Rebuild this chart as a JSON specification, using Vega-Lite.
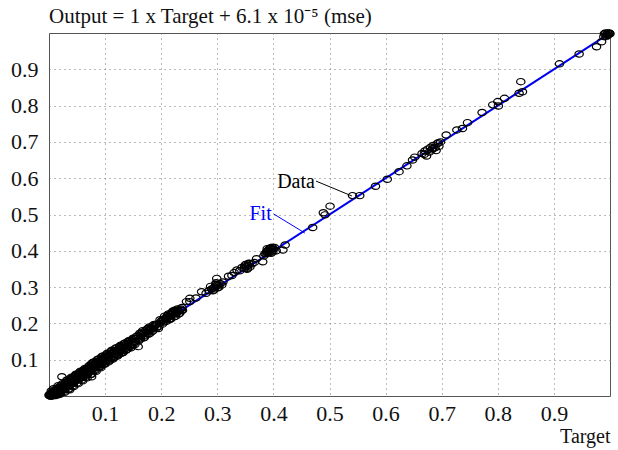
{
  "$schema": "https://vega.github.io/schema/vega-lite/v6.json",
  "autosize": "none",
  "width": 561,
  "height": 363,
  "padding": {"left": 49, "top": 33, "right": 8, "bottom": 54},
  "background": "white",
  "config": {
    "font": "Liberation Serif",
    "view": {"stroke": "#555", "strokeWidth": 1}
  },
  "title": {
    "text": "Output = 1 x Target + 6.1 x 10⁻⁵ (mse)",
    "anchor": "start", "frame": "group", "font": "Liberation Serif",
    "fontSize": 21, "fontWeight": "normal", "color": "#111", "offset": 0
  },
  "datasets": {
    "pts": [
      {"t":0.000,"o":0.002},{"t":0.002,"o":0.000},{"t":0.003,"o":0.006},{"t":0.004,"o":0.003},{"t":0.005,"o":0.010},
      {"t":0.006,"o":0.001},{"t":0.007,"o":0.008},{"t":0.008,"o":0.004},{"t":0.009,"o":0.013},{"t":0.010,"o":0.006},
      {"t":0.011,"o":0.002},{"t":0.012,"o":0.016},{"t":0.013,"o":0.009},{"t":0.014,"o":0.011},{"t":0.015,"o":0.005},
      {"t":0.016,"o":0.020},{"t":0.017,"o":0.013},{"t":0.018,"o":0.017},{"t":0.019,"o":0.010},{"t":0.020,"o":0.024},
      {"t":0.021,"o":0.016},{"t":0.022,"o":0.021},{"t":0.023,"o":0.053},{"t":0.024,"o":0.015},{"t":0.025,"o":0.028},
      {"t":0.026,"o":0.022},{"t":0.027,"o":0.031},{"t":0.028,"o":0.019},{"t":0.029,"o":0.035},{"t":0.030,"o":0.026},
      {"t":0.031,"o":0.030},{"t":0.032,"o":0.039},{"t":0.033,"o":0.024},{"t":0.034,"o":0.034},{"t":0.035,"o":0.042},
      {"t":0.036,"o":0.029},{"t":0.037,"o":0.017},{"t":0.038,"o":0.040},{"t":0.039,"o":0.046},{"t":0.040,"o":0.033},
      {"t":0.041,"o":0.044},{"t":0.042,"o":0.038},{"t":0.043,"o":0.050},{"t":0.044,"o":0.036},{"t":0.045,"o":0.048},
      {"t":0.046,"o":0.041},{"t":0.047,"o":0.055},{"t":0.048,"o":0.043},{"t":0.049,"o":0.052},{"t":0.050,"o":0.046},
      {"t":0.051,"o":0.058},{"t":0.052,"o":0.045},{"t":0.053,"o":0.055},{"t":0.054,"o":0.050},{"t":0.055,"o":0.062},
      {"t":0.056,"o":0.049},{"t":0.057,"o":0.060},{"t":0.058,"o":0.054},{"t":0.059,"o":0.066},{"t":0.060,"o":0.053},
      {"t":0.061,"o":0.064},{"t":0.062,"o":0.058},{"t":0.063,"o":0.070},{"t":0.064,"o":0.056},{"t":0.065,"o":0.068},
      {"t":0.066,"o":0.062},{"t":0.067,"o":0.074},{"t":0.068,"o":0.060},{"t":0.069,"o":0.071},{"t":0.070,"o":0.066},
      {"t":0.071,"o":0.078},{"t":0.072,"o":0.065},{"t":0.073,"o":0.076},{"t":0.074,"o":0.070},{"t":0.075,"o":0.082},
      {"t":0.076,"o":0.090},{"t":0.076,"o":0.053},{"t":0.077,"o":0.073},{"t":0.078,"o":0.084},{"t":0.079,"o":0.075},
      {"t":0.080,"o":0.086},{"t":0.081,"o":0.078},{"t":0.082,"o":0.091},{"t":0.083,"o":0.079},{"t":0.084,"o":0.089},
      {"t":0.085,"o":0.083},{"t":0.086,"o":0.095},{"t":0.087,"o":0.081},{"t":0.088,"o":0.093},{"t":0.089,"o":0.087},
      {"t":0.090,"o":0.098},{"t":0.091,"o":0.086},{"t":0.092,"o":0.097},{"t":0.093,"o":0.091},{"t":0.094,"o":0.103},
      {"t":0.095,"o":0.090},{"t":0.096,"o":0.101},{"t":0.097,"o":0.095},{"t":0.098,"o":0.107},{"t":0.099,"o":0.094},
      {"t":0.100,"o":0.105},{"t":0.102,"o":0.099},{"t":0.104,"o":0.111},{"t":0.106,"o":0.101},{"t":0.108,"o":0.114},
      {"t":0.110,"o":0.106},{"t":0.112,"o":0.118},{"t":0.114,"o":0.109},{"t":0.116,"o":0.121},{"t":0.118,"o":0.113},
      {"t":0.120,"o":0.125},{"t":0.122,"o":0.116},{"t":0.124,"o":0.128},{"t":0.126,"o":0.121},{"t":0.127,"o":0.136},
      {"t":0.128,"o":0.124},{"t":0.130,"o":0.134},{"t":0.132,"o":0.127},{"t":0.134,"o":0.138},{"t":0.136,"o":0.131},
      {"t":0.138,"o":0.142},{"t":0.140,"o":0.136},{"t":0.142,"o":0.146},{"t":0.144,"o":0.139},{"t":0.147,"o":0.140},
      {"t":0.150,"o":0.159},{"t":0.152,"o":0.148},{"t":0.155,"o":0.158},{"t":0.159,"o":0.136},{"t":0.162,"o":0.173},
      {"t":0.165,"o":0.168},{"t":0.168,"o":0.171},{"t":0.173,"o":0.182},{"t":0.174,"o":0.177},{"t":0.178,"o":0.180},
      {"t":0.182,"o":0.188},{"t":0.186,"o":0.196},{"t":0.186,"o":0.186},{"t":0.195,"o":0.186},{"t":0.200,"o":0.205},
      {"t":0.207,"o":0.214},{"t":0.210,"o":0.214},{"t":0.212,"o":0.218},{"t":0.215,"o":0.220},{"t":0.218,"o":0.225},
      {"t":0.220,"o":0.228},{"t":0.222,"o":0.230},{"t":0.225,"o":0.226},{"t":0.228,"o":0.232},{"t":0.230,"o":0.236},
      {"t":0.232,"o":0.233},{"t":0.235,"o":0.240},{"t":0.245,"o":0.260},{"t":0.251,"o":0.269},{"t":0.251,"o":0.260},
      {"t":0.272,"o":0.287},{"t":0.285,"o":0.290},{"t":0.290,"o":0.295},{"t":0.293,"o":0.297},{"t":0.296,"o":0.300},
      {"t":0.299,"o":0.306},{"t":0.299,"o":0.324},{"t":0.302,"o":0.305},{"t":0.305,"o":0.310},{"t":0.310,"o":0.314},
      {"t":0.320,"o":0.330},{"t":0.330,"o":0.340},{"t":0.335,"o":0.347},{"t":0.340,"o":0.345},{"t":0.348,"o":0.352},
      {"t":0.352,"o":0.356},{"t":0.355,"o":0.360},{"t":0.358,"o":0.355},{"t":0.362,"o":0.364},{"t":0.370,"o":0.378},
      {"t":0.381,"o":0.370},{"t":0.385,"o":0.392},{"t":0.388,"o":0.398},{"t":0.390,"o":0.400},{"t":0.391,"o":0.402},
      {"t":0.393,"o":0.396},{"t":0.395,"o":0.404},{"t":0.397,"o":0.399},{"t":0.400,"o":0.405},{"t":0.405,"o":0.400},
      {"t":0.417,"o":0.402},{"t":0.421,"o":0.416},{"t":0.470,"o":0.464},{"t":0.489,"o":0.505},{"t":0.492,"o":0.499},
      {"t":0.501,"o":0.523},{"t":0.541,"o":0.552},{"t":0.554,"o":0.552},{"t":0.582,"o":0.578},{"t":0.603,"o":0.597},
      {"t":0.624,"o":0.618},{"t":0.638,"o":0.634},{"t":0.648,"o":0.650},{"t":0.652,"o":0.658},{"t":0.665,"o":0.668},
      {"t":0.670,"o":0.675},{"t":0.673,"o":0.661},{"t":0.675,"o":0.680},{"t":0.678,"o":0.672},{"t":0.680,"o":0.685},
      {"t":0.682,"o":0.678},{"t":0.685,"o":0.690},{"t":0.688,"o":0.684},{"t":0.690,"o":0.676},{"t":0.692,"o":0.695},
      {"t":0.695,"o":0.688},{"t":0.698,"o":0.700},{"t":0.708,"o":0.719},{"t":0.727,"o":0.733},{"t":0.737,"o":0.737},
      {"t":0.746,"o":0.753},{"t":0.772,"o":0.781},{"t":0.791,"o":0.802},{"t":0.800,"o":0.811},{"t":0.801,"o":0.799},
      {"t":0.812,"o":0.820},{"t":0.838,"o":0.834},{"t":0.841,"o":0.866},{"t":0.844,"o":0.838},{"t":0.910,"o":0.915},
      {"t":0.945,"o":0.942},{"t":0.976,"o":0.962},{"t":0.985,"o":0.976},{"t":0.993,"o":0.990},{"t":0.990,"o":0.998},
      {"t":0.992,"o":1.000},{"t":0.994,"o":0.997},{"t":0.996,"o":1.000},{"t":0.998,"o":0.999},{"t":1.000,"o":0.998},
      {"t":0.997,"o":0.995},
      {"t":0.004,"o":0.014},{"t":0.008,"o":0.020},{"t":0.012,"o":0.001},{"t":0.016,"o":0.028},{"t":0.020,"o":0.006},
      {"t":0.024,"o":0.034},{"t":0.028,"o":0.010},{"t":0.032,"o":0.044},{"t":0.036,"o":0.020},{"t":0.040,"o":0.052},
      {"t":0.044,"o":0.026},{"t":0.048,"o":0.060},{"t":0.052,"o":0.034},{"t":0.056,"o":0.068},{"t":0.060,"o":0.042},
      {"t":0.064,"o":0.076},{"t":0.068,"o":0.050},{"t":0.072,"o":0.084},{"t":0.076,"o":0.060},{"t":0.080,"o":0.094},
      {"t":0.084,"o":0.068},{"t":0.088,"o":0.102},{"t":0.092,"o":0.078},{"t":0.096,"o":0.110},{"t":0.100,"o":0.088},
      {"t":0.104,"o":0.118},{"t":0.108,"o":0.097},{"t":0.112,"o":0.126},{"t":0.116,"o":0.106},{"t":0.120,"o":0.133},
      {"t":0.124,"o":0.114},{"t":0.128,"o":0.140},{"t":0.132,"o":0.120},{"t":0.136,"o":0.146},{"t":0.140,"o":0.129},
      {"t":0.145,"o":0.153},{"t":0.150,"o":0.142},{"t":0.156,"o":0.164},{"t":0.160,"o":0.152},{"t":0.166,"o":0.176},
      {"t":0.170,"o":0.162},{"t":0.176,"o":0.186},{"t":0.180,"o":0.173},{"t":0.190,"o":0.198},{"t":0.196,"o":0.192},
      {"t":0.204,"o":0.210},{"t":0.216,"o":0.214},{"t":0.224,"o":0.236},{"t":0.238,"o":0.236},{"t":0.262,"o":0.270},
      {"t":0.280,"o":0.283},{"t":0.308,"o":0.306},{"t":0.326,"o":0.332},{"t":0.344,"o":0.354},{"t":0.366,"o":0.368},
      {"t":0.383,"o":0.386},{"t":0.396,"o":0.393},{"t":0.402,"o":0.409},{"t":0.669,"o":0.666},{"t":0.684,"o":0.682},
      {"t":0.694,"o":0.698},{"t":0.999,"o":1.000},{"t":0.995,"o":0.993},{"t":0.989,"o":0.990},
      {"t":0.005,"o":0.000},{"t":0.009,"o":0.001},{"t":0.014,"o":0.022},{"t":0.018,"o":0.004},{"t":0.022,"o":0.030},
      {"t":0.026,"o":0.012},{"t":0.030,"o":0.038},{"t":0.034,"o":0.018},{"t":0.038,"o":0.048},{"t":0.042,"o":0.028},
      {"t":0.046,"o":0.056},{"t":0.050,"o":0.036},{"t":0.054,"o":0.064},{"t":0.058,"o":0.044},{"t":0.062,"o":0.072},
      {"t":0.066,"o":0.052},{"t":0.070,"o":0.080},{"t":0.074,"o":0.060},{"t":0.078,"o":0.092},{"t":0.082,"o":0.070},
      {"t":0.086,"o":0.100},{"t":0.090,"o":0.080},{"t":0.094,"o":0.108},{"t":0.098,"o":0.088},{"t":0.102,"o":0.114},
      {"t":0.106,"o":0.094},{"t":0.110,"o":0.122},{"t":0.114,"o":0.102},{"t":0.118,"o":0.130},{"t":0.122,"o":0.110},
      {"t":0.126,"o":0.137},{"t":0.130,"o":0.118},{"t":0.134,"o":0.145},{"t":0.138,"o":0.128},{"t":0.142,"o":0.152},
      {"t":0.146,"o":0.133},{"t":0.150,"o":0.150},{"t":0.154,"o":0.149},{"t":0.158,"o":0.166},{"t":0.163,"o":0.158},
      {"t":0.167,"o":0.180},{"t":0.171,"o":0.166},{"t":0.175,"o":0.172},{"t":0.179,"o":0.190},{"t":0.184,"o":0.178},
      {"t":0.188,"o":0.192},{"t":0.192,"o":0.188},{"t":0.198,"o":0.210},{"t":0.202,"o":0.198},{"t":0.206,"o":0.220},
      {"t":0.209,"o":0.206},{"t":0.213,"o":0.226},{"t":0.217,"o":0.212},{"t":0.221,"o":0.234},{"t":0.226,"o":0.220},
      {"t":0.229,"o":0.240},{"t":0.233,"o":0.228},{"t":0.237,"o":0.244},{"t":0.288,"o":0.302},{"t":0.292,"o":0.290},
      {"t":0.297,"o":0.308},{"t":0.301,"o":0.298},{"t":0.350,"o":0.362},{"t":0.353,"o":0.349},{"t":0.357,"o":0.365},
      {"t":0.387,"o":0.392},{"t":0.389,"o":0.406},{"t":0.392,"o":0.395},{"t":0.394,"o":0.408},{"t":0.398,"o":0.410},
      {"t":0.001,"o":0.004},{"t":0.003,"o":0.000},{"t":0.006,"o":0.012},{"t":0.010,"o":0.015},{"t":0.013,"o":0.004},
      {"t":0.017,"o":0.023},{"t":0.021,"o":0.010},{"t":0.025,"o":0.020},{"t":0.029,"o":0.022},{"t":0.033,"o":0.036},
      {"t":0.037,"o":0.030},{"t":0.041,"o":0.034},{"t":0.045,"o":0.040},{"t":0.049,"o":0.044},{"t":0.053,"o":0.060},
      {"t":0.057,"o":0.050},{"t":0.061,"o":0.056},{"t":0.065,"o":0.074},{"t":0.069,"o":0.062},{"t":0.073,"o":0.068},
      {"t":0.077,"o":0.086},{"t":0.081,"o":0.072},{"t":0.085,"o":0.092},{"t":0.089,"o":0.080},{"t":0.093,"o":0.100},
      {"t":0.097,"o":0.088},{"t":0.101,"o":0.110},{"t":0.105,"o":0.098},{"t":0.109,"o":0.118},{"t":0.113,"o":0.104},
      {"t":0.117,"o":0.124},{"t":0.121,"o":0.112},{"t":0.125,"o":0.132},{"t":0.129,"o":0.120},{"t":0.133,"o":0.140},
      {"t":0.137,"o":0.126},{"t":0.141,"o":0.150},{"t":0.145,"o":0.136},{"t":0.149,"o":0.156},{"t":0.153,"o":0.142},
      {"t":0.157,"o":0.160},{"t":0.161,"o":0.156},{"t":0.165,"o":0.172},{"t":0.169,"o":0.160},{"t":0.173,"o":0.176},
      {"t":0.177,"o":0.170},{"t":0.181,"o":0.184},{"t":0.185,"o":0.180},{"t":0.189,"o":0.196},{"t":0.193,"o":0.198},
      {"t":0.197,"o":0.200},{"t":0.201,"o":0.208},{"t":0.205,"o":0.204},{"t":0.211,"o":0.222},{"t":0.214,"o":0.210},
      {"t":0.219,"o":0.230},{"t":0.223,"o":0.218},{"t":0.227,"o":0.236},{"t":0.231,"o":0.226},{"t":0.236,"o":0.236},
      {"t":0.294,"o":0.292},{"t":0.298,"o":0.312},{"t":0.303,"o":0.300},{"t":0.349,"o":0.358},{"t":0.354,"o":0.352},
      {"t":0.356,"o":0.366},{"t":0.389,"o":0.394},{"t":0.392,"o":0.404},{"t":0.396,"o":0.407},{"t":0.399,"o":0.397}
    ],
    "fit": [{"t": 0, "o": 0}, {"t": 1, "o": 1}],
    "leaders": [
      {"label": "Data", "t": 0.476, "o": 0.592, "t2": 0.540, "o2": 0.551, "c": "black"},
      {"label": "Fit", "t": 0.401, "o": 0.501, "t2": 0.456, "o2": 0.449, "c": "blue"}
    ],
    "labels": [
      {"label": "Data", "t": 0.474, "o": 0.590, "c": "black"},
      {"label": "Fit", "t": 0.397, "o": 0.502, "c": "blue"}
    ]
  },
  "layer": [
    {
      "data": {"name": "fit"},
      "mark": {"type": "line", "color": "#0000ee", "strokeWidth": 2, "clip": true},
      "encoding": {
        "x": {"field": "t", "type": "quantitative", "scale": {"domain": [0, 1], "nice": false, "zero": false},
          "axis": {"values": [0.1, 0.2, 0.3, 0.4, 0.5, 0.6, 0.7, 0.8, 0.9], "format": ".1f", "labelPadding": 7,
            "labelFont": "Liberation Serif", "labelFontSize": 22, "labelColor": "#111",
            "ticks": false, "domain": false, "grid": true, "gridColor": "#777", "gridDash": [1, 4], "gridWidth": 1,
            "title": "Target", "titleAnchor": "end", "titleAlign": "right", "titlePadding": 2,
            "titleFont": "Liberation Serif", "titleFontSize": 20, "titleFontWeight": "normal", "titleColor": "#111"}},
        "y": {"field": "o", "type": "quantitative", "scale": {"domain": [0, 1], "nice": false, "zero": false},
          "axis": {"values": [0.1, 0.2, 0.3, 0.4, 0.5, 0.6, 0.7, 0.8, 0.9], "format": ".1f", "labelPadding": 11,
            "labelFont": "Liberation Serif", "labelFontSize": 22, "labelColor": "#111",
            "ticks": false, "domain": false, "grid": true, "gridColor": "#777", "gridDash": [1, 4], "gridWidth": 1,
            "title": null}}
      }
    },
    {
      "data": {"name": "pts"},
      "mark": {"type": "point", "shape": "M-1,0A1,0.75 0 1,1 1,0A1,0.75 0 1,1 -1,0Z", "filled": false, "color": "black", "size": 70, "strokeWidth": 1.2, "opacity": 1},
      "encoding": {
        "x": {"field": "t", "type": "quantitative"},
        "y": {"field": "o", "type": "quantitative"}
      }
    },
    {
      "data": {"name": "leaders"},
      "mark": {"type": "rule", "strokeWidth": 1},
      "encoding": {
        "x": {"field": "t", "type": "quantitative"},
        "y": {"field": "o", "type": "quantitative"},
        "x2": {"field": "t2"},
        "y2": {"field": "o2"},
        "color": {"field": "c", "type": "nominal", "scale": null, "legend": null}
      }
    },
    {
      "data": {"name": "labels"},
      "mark": {"type": "text", "align": "right", "baseline": "middle", "font": "Liberation Serif", "fontSize": 20},
      "encoding": {
        "x": {"field": "t", "type": "quantitative"},
        "y": {"field": "o", "type": "quantitative"},
        "text": {"field": "label"},
        "color": {"field": "c", "type": "nominal", "scale": null, "legend": null}
      }
    }
  ]
}
